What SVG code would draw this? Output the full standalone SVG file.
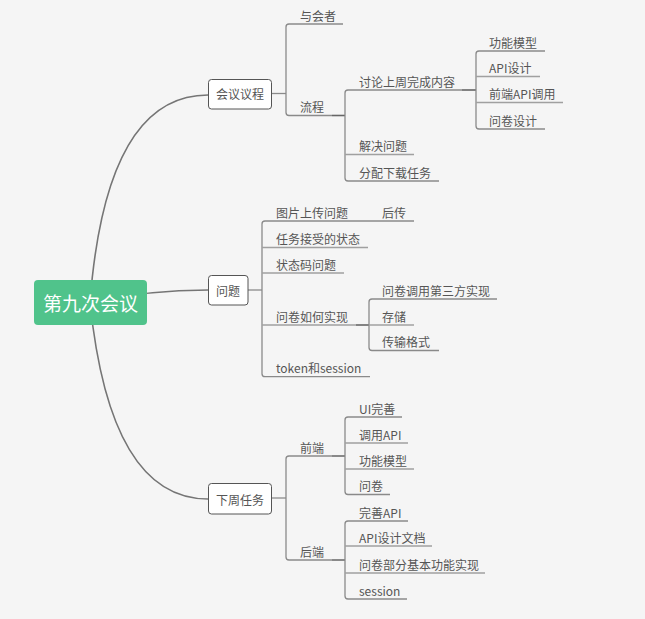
<svg xmlns="http://www.w3.org/2000/svg" width="645" height="619" viewBox="0 0 645 619">
<style>
text{font-family:"Noto Sans CJK SC","Microsoft YaHei",sans-serif;font-size:12px;fill:#555}
.root{font-size:19px;fill:#fff;text-anchor:middle}
.bt{text-anchor:middle}
.box{fill:#fff;stroke:#555;stroke-width:1}
.main{fill:none;stroke:#757575;stroke-width:1.6}
.ul{fill:none;stroke:#a0a0a0;stroke-width:1.3}
.br{fill:none;stroke:#8a8a8a;stroke-width:1.3}
.dk{fill:none;stroke:#666;stroke-width:1.6}
</style>
<rect width="645" height="619" fill="#f5f5f5"/>
<g id="connectors">
<path class="main" d="M90 302 Q106 95 208 95"/>
<path class="main" d="M90 302 Q150 290 208 290"/>
<path class="main" d="M90 302 Q110 499 208 499"/>
<!-- 会议议程 -->
<path class="br" d="M272 93.5 H286"/>
<path class="br" d="M343 24 H289 Q286 24 286 27 V112.5 Q286 115.5 289 115.5 H332"/>
<path class="dk" d="M332 115.5 H345"/>
<path class="br" d="M462 90 H348 Q345 90 345 93 V178 Q345 181 348 181 H439"/>
<path class="ul" d="M345 154.5 H414"/>
<path class="dk" d="M462 90 H476"/>
<path class="br" d="M545 51 H479 Q476 51 476 54 V126 Q476 129 479 129 H545"/>
<path class="ul" d="M476 76.5 H540 M476 102.5 H563"/>
<!-- 问题 -->
<path class="br" d="M248 290 H262"/>
<path class="br" d="M414 221 H265 Q262 221 262 224 V373.7 Q262 376.7 265 376.7 H370"/>
<path class="ul" d="M262 247.5 H368 M262 273 H344 M262 325 H356"/>
<path class="dk" d="M356 325 H369"/>
<path class="br" d="M497 299 H372 Q369 299 369 302 V347.5 Q369 350.5 372 350.5 H439"/>
<path class="ul" d="M369 325 H414"/>
<!-- 下周任务 -->
<path class="br" d="M272 498 H286"/>
<path class="br" d="M332 456 H289 Q286 456 286 459 V557 Q286 560 289 560 H332"/>
<path class="dk" d="M332 456 H345 M332 560 H345"/>
<path class="br" d="M402 417 H348 Q345 417 345 420 V491.5 Q345 494.5 348 494.5 H390"/>
<path class="ul" d="M345 443 H408 M345 469 H414"/>
<path class="br" d="M408 521 H348 Q345 521 345 524 V596 Q345 599 348 599 H407"/>
<path class="ul" d="M345 546 H432 M345 573 H485"/>
</g>
<g id="root"><rect x="34" y="280" width="113" height="45" rx="4" fill="#50c38b"/><text class="root" x="90.5" y="311">第九次会议</text></g>
<g id="n-agenda"><rect class="box" x="208.5" y="79.5" width="63" height="29.5" rx="3"/><text class="bt" x="240" y="99">会议议程</text></g>
<g id="n-attendees"><text x="300" y="20.5">与会者</text></g>
<g id="n-process"><text x="300" y="112">流程</text></g>
<g id="n-discuss"><text x="359" y="86.5">讨论上周完成内容</text></g>
<g id="n-func1"><text x="489" y="47.5">功能模型</text></g>
<g id="n-apidesign"><text x="489" y="73">API设计</text></g>
<g id="n-feapi"><text x="489" y="99">前端API调用</text></g>
<g id="n-qdesign"><text x="489" y="125.5">问卷设计</text></g>
<g id="n-solve"><text x="359" y="151">解决问题</text></g>
<g id="n-assign"><text x="359" y="177.5">分配下载任务</text></g>
<g id="n-issues"><rect class="box" x="208.5" y="275.5" width="39.5" height="29.5" rx="3"/><text class="bt" x="228" y="295.5">问题</text></g>
<g id="n-upload"><text x="276" y="217.5">图片上传问题</text></g>
<g id="n-later"><text x="382" y="217.5">后传</text></g>
<g id="n-taskstate"><text x="276" y="244">任务接受的状态</text></g>
<g id="n-statuscode"><text x="276" y="269.5">状态码问题</text></g>
<g id="n-qimpl"><text x="276" y="321.5">问卷如何实现</text></g>
<g id="n-third"><text x="382" y="295.5">问卷调用第三方实现</text></g>
<g id="n-storage"><text x="382" y="321.5">存储</text></g>
<g id="n-format"><text x="382" y="347">传输格式</text></g>
<g id="n-token"><text x="276" y="373">token和session</text></g>
<g id="n-next"><rect class="box" x="208.5" y="483.5" width="63" height="30.5" rx="3"/><text class="bt" x="240" y="504.5">下周任务</text></g>
<g id="n-frontend"><text x="300" y="452.5">前端</text></g>
<g id="n-ui"><text x="359" y="413.5">UI完善</text></g>
<g id="n-callapi"><text x="359" y="439.5">调用API</text></g>
<g id="n-func2"><text x="359" y="465.5">功能模型</text></g>
<g id="n-q"><text x="359" y="491">问卷</text></g>
<g id="n-backend"><text x="300" y="556.5">后端</text></g>
<g id="n-improveapi"><text x="359" y="517.5">完善API</text></g>
<g id="n-apidoc"><text x="359" y="542.5">API设计文档</text></g>
<g id="n-qbasic"><text x="359" y="569.5">问卷部分基本功能实现</text></g>
<g id="n-session"><text x="359" y="595.5">session</text></g>
</svg>
